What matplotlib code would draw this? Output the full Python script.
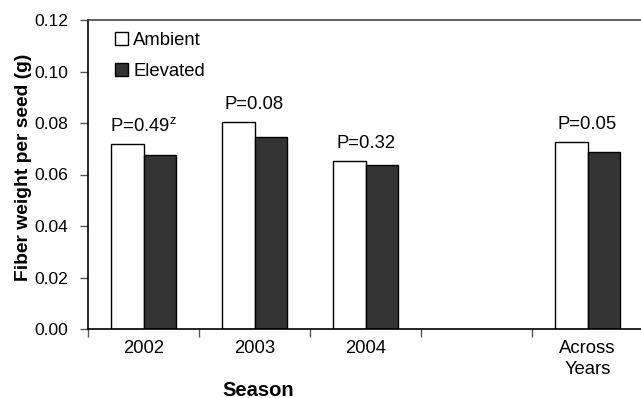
import matplotlib
matplotlib.use("Agg")
import matplotlib.pyplot as plt
from matplotlib.patches import Patch
import numpy as np

plt.rcParams['font.family'] = ['Liberation Sans', 'DejaVu Sans']
plt.rcParams['mathtext.fontset'] = 'custom'
plt.rcParams['mathtext.rm'] = 'Liberation Sans'

categories = ['2002', '2003', '2004', '', 'Across\nYears']
ambient = [0.0720, 0.0803, 0.0654, None, 0.0725]
elevated = [0.0677, 0.0747, 0.0638, None, 0.0686]
p_labels = [r'P=0.49$^{\mathregular{z}}$', 'P=0.08', 'P=0.32', '', 'P=0.05']
yticks = [0.00, 0.02, 0.04, 0.06, 0.08, 0.10, 0.12]

FS = 13.3
W, H = 641, 398
fig = plt.figure(figsize=(W / 100, H / 100), dpi=100)
ax = fig.add_axes([88 / W, 1 - 329 / H, 555 / W, 309 / H])

w = 0.29
centers = np.arange(len(categories)) + 0.5
for c, a, e, p in zip(centers, ambient, elevated, p_labels):
    if a is None:
        continue
    ax.bar(c - w / 2, a, width=w, color='white', edgecolor='black', linewidth=1.0, zorder=2)
    ax.bar(c + w / 2, e, width=w, color='#333333', edgecolor='black', linewidth=1.0, zorder=2)
    ax.text(c, max(a, e) + 0.0068, p, ha='center', va='center', fontsize=FS)

ax.set_xlim(0, len(categories))
ax.set_ylim(0, 0.12)
ax.set_yticks(yticks)
ax.set_yticklabels([f'{v:.2f}' for v in yticks], fontsize=12.6)
ax.set_xticks(np.arange(len(categories) + 1))
ax.set_xticklabels([])
ax.set_xticks(centers, minor=True)
ax.set_xticklabels(categories, minor=True, fontsize=FS, linespacing=1.3)
ax.tick_params(axis='x', which='minor', length=0, pad=8)
ax.tick_params(axis='x', which='major', direction='out', length=6, width=1, color='#555555')
ax.tick_params(axis='y', direction='out', length=6, width=1, color='#555555', pad=8)
for s in ['left', 'bottom', 'top']:
    ax.spines[s].set_linewidth(1.2)
ax.spines['right'].set_visible(False)
ax.spines['top'].set_color('#444444')

fig.text(23.5 / W, 1 - 167.7 / H, 'Fiber weight per seed (g)', rotation=90,
         ha='center', va='center', fontsize=13.9, fontweight='bold')
fig.text(258 / W, 1 - 390 / H, 'Season', ha='center', va='center', fontsize=14.5, fontweight='bold')

handles = [Patch(facecolor='white', edgecolor='black', linewidth=1.0, label='Ambient'),
           Patch(facecolor='#333333', edgecolor='black', linewidth=1.0, label='Elevated')]
ax.legend(handles=handles, loc='upper left', bbox_to_anchor=(0.035, 0.985), frameon=False,
          fontsize=FS, handlelength=0.7, handleheight=0.7, handletextpad=0.3,
          labelspacing=0.75, borderaxespad=0)

fig.savefig('out.png', dpi=100)
